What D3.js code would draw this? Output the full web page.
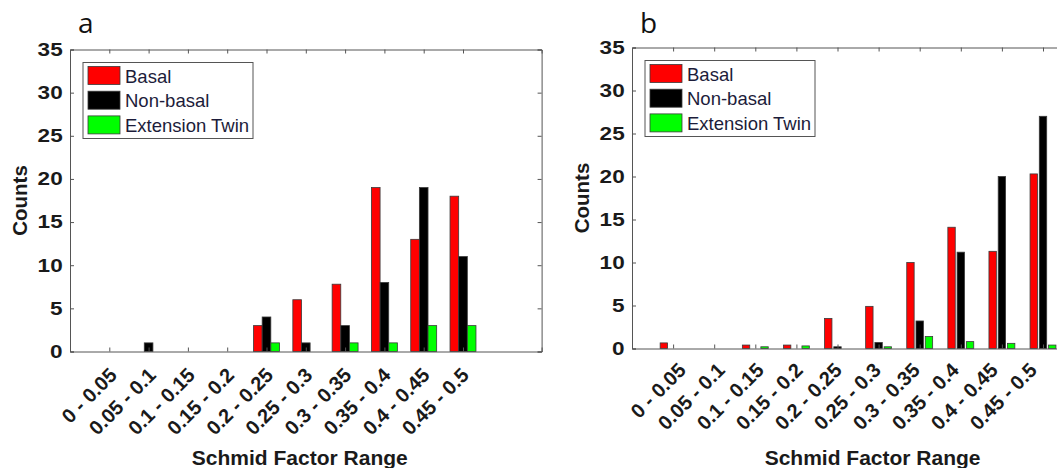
<!DOCTYPE html>
<html>
<head>
<meta charset="utf-8">
<script src="https://cdn.jsdelivr.net/npm/d3@7"></script>
<style>
  body { margin: 0; background: #fff; }
  svg { display: block; }
</style>
</head>
<body>
<div id="chart"></div>
<script>
const categories = ["0 - 0.05", "0.05 - 0.1", "0.1 - 0.15", "0.15 - 0.2", "0.2 - 0.25",
    "0.25 - 0.3", "0.3 - 0.35", "0.35 - 0.4", "0.4 - 0.45", "0.45 - 0.5"];
const seriesNames = ["Basal", "Non-basal", "Extension Twin"];
const seriesColors = ["#ff0000", "#000000", "#00ff00"];
const yTicks = [0, 5, 10, 15, 20, 25, 30, 35];

const basalA = [0, 0, 0, 0, 3, 6, 7.8, 19, 13, 18];
const nonBasalA = [0, 1, 0, 0, 4, 1, 3, 8, 19, 11];
const twinA = [0, 0, 0, 0, 1, 0, 1, 1, 3, 3];

const basalB = [0.65, 0, 0.4, 0.4, 3.5, 4.9, 10, 14.1, 11.3, 20.3];
const nonBasalB = [0, 0, 0, 0, 0.2, 0.7, 3.2, 11.2, 20, 27];
const twinB = [0, 0, 0.2, 0.3, 0, 0.2, 1.4, 0.8, 0.6, 0.4];

const svg = d3.select("#chart").append("svg")
    .attr("width", 1057)
    .attr("height", 468);

const axisColor = "#555";
const textColor = "#1a1a1a";
const sansFont = "'Liberation Sans', Arial, sans-serif";

function drawPanel(opts) {
    const { letter, left, top, bottom, step, barW, pitch, labelEnds, labelDrop, series } = opts;
    const right = left + 12 * step;

    const x = d3.scaleLinear().domain([0, 12]).range([left, right]);
    const y = d3.scaleLinear().domain([0, 35]).range([bottom, top]);
    // the category labels sit on a slightly different spacing than the ticks
    const xLabel = d3.scaleLinear().domain([1, categories.length]).range(labelEnds);

    const g = svg.append("g");

    // bars
    series.forEach((vals, s) => {
        g.selectAll(null)
            .data(vals.map((v, i) => ({ v, i })).filter(d => d.v > 0))
            .enter()
            .append("rect")
            .attr("x", d => x(d.i + 1 + (s - 1) * pitch - barW / 2))
            .attr("width", x(barW) - x(0))
            .attr("y", d => y(d.v))
            .attr("height", d => y(0) - y(d.v))
            .style("fill", seriesColors[s])
            .style("stroke", "#3a3a3a")
            .style("stroke-width", 0.8);
    });

    // box axes, ticks pointing inwards
    const tickLen = 4;
    const xTickVals = d3.range(1, categories.length + 1);

    g.append("g")
        .attr("transform", `translate(0,${bottom})`)
        .call(d3.axisBottom(x).tickValues(xTickVals).tickSize(-tickLen).tickFormat(""));
    g.append("g")
        .attr("transform", `translate(0,${top})`)
        .call(d3.axisTop(x).tickValues(xTickVals).tickSize(-tickLen).tickFormat(""));
    g.append("g")
        .attr("class", "y-left")
        .attr("transform", `translate(${left},0)`)
        .call(d3.axisLeft(y).tickValues(yTicks).tickSize(-tickLen).tickPadding(6));
    g.append("g")
        .attr("transform", `translate(${right},0)`)
        .call(d3.axisRight(y).tickValues(yTicks).tickSize(-tickLen).tickFormat(""));

    g.selectAll(".domain, .tick line")
        .attr("stroke", axisColor)
        .attr("stroke-width", 1);

    g.selectAll(".y-left .tick text")
        .attr("fill", textColor)
        .attr("transform", "scale(1.22,1)")
        .style("font-family", sansFont)
        .style("font-weight", "bold")
        .style("font-size", "18.5px");

    // rotated category labels
    g.selectAll(null)
        .data(categories)
        .enter()
        .append("text")
        .attr("transform", (d, i) => `translate(${xLabel(i + 1)},${bottom + labelDrop}) rotate(-45)`)
        .attr("text-anchor", "end")
        .attr("fill", textColor)
        .style("font-family", sansFont)
        .style("font-weight", "bold")
        .style("font-size", "20px")
        .text(d => d);

    // axis titles
    g.append("text")
        .attr("x", (left + right) / 2 - 6)
        .attr("y", 465)
        .attr("text-anchor", "middle")
        .attr("fill", textColor)
        .style("font-family", sansFont)
        .style("font-weight", "bold")
        .style("font-size", "21px")
        .text("Schmid Factor Range");

    g.append("text")
        .attr("transform", `translate(${left - 43},${(top + bottom) / 2}) rotate(-90)`)
        .attr("text-anchor", "middle")
        .attr("fill", textColor)
        .style("font-family", sansFont)
        .style("font-weight", "bold")
        .style("font-size", "20.5px")
        .text("Counts");

    // panel letter
    g.append("text")
        .attr("x", left + 8)
        .attr("y", 33)
        .attr("fill", "#111")
        .style("font-family", "'Open Sans', sans-serif")
        .style("font-size", "28px")
        .text(letter);

    // legend
    const lg = g.append("g")
        .attr("transform", `translate(${left + 13},${top + 13})`);

    lg.append("rect")
        .attr("width", 170)
        .attr("height", 76)
        .style("fill", "#fff")
        .style("stroke", axisColor)
        .style("stroke-width", 1);

    const items = lg.selectAll(".legend-item")
        .data(seriesNames)
        .enter()
        .append("g")
        .attr("class", "legend-item")
        .attr("transform", (d, i) => `translate(5, ${4 + i * 24.7})`);

    items.append("rect")
        .attr("width", 32)
        .attr("height", 18)
        .style("fill", (d, i) => seriesColors[i])
        .style("stroke", "#3a3a3a")
        .style("stroke-width", 0.8);

    items.append("text")
        .attr("x", 37)
        .attr("y", 16)
        .attr("fill", "#1c1c3a")
        .style("font-family", sansFont)
        .style("font-size", "18.5px")
        .text(d => d);
}

drawPanel({
    letter: "a", left: 70, top: 49.5, bottom: 351.5, step: 39.3,
    barW: 0.22, pitch: 0.22, labelEnds: [118, 470], labelDrop: 25,
    series: [basalA, nonBasalA, twinA]
});

drawPanel({
    letter: "b", left: 632, top: 47.5, bottom: 348.5, step: 41.1,
    barW: 0.18, pitch: 0.225, labelEnds: [687, 1038], labelDrop: 23,
    series: [basalB, nonBasalB, twinB]
});
</script>
</body>
</html>
